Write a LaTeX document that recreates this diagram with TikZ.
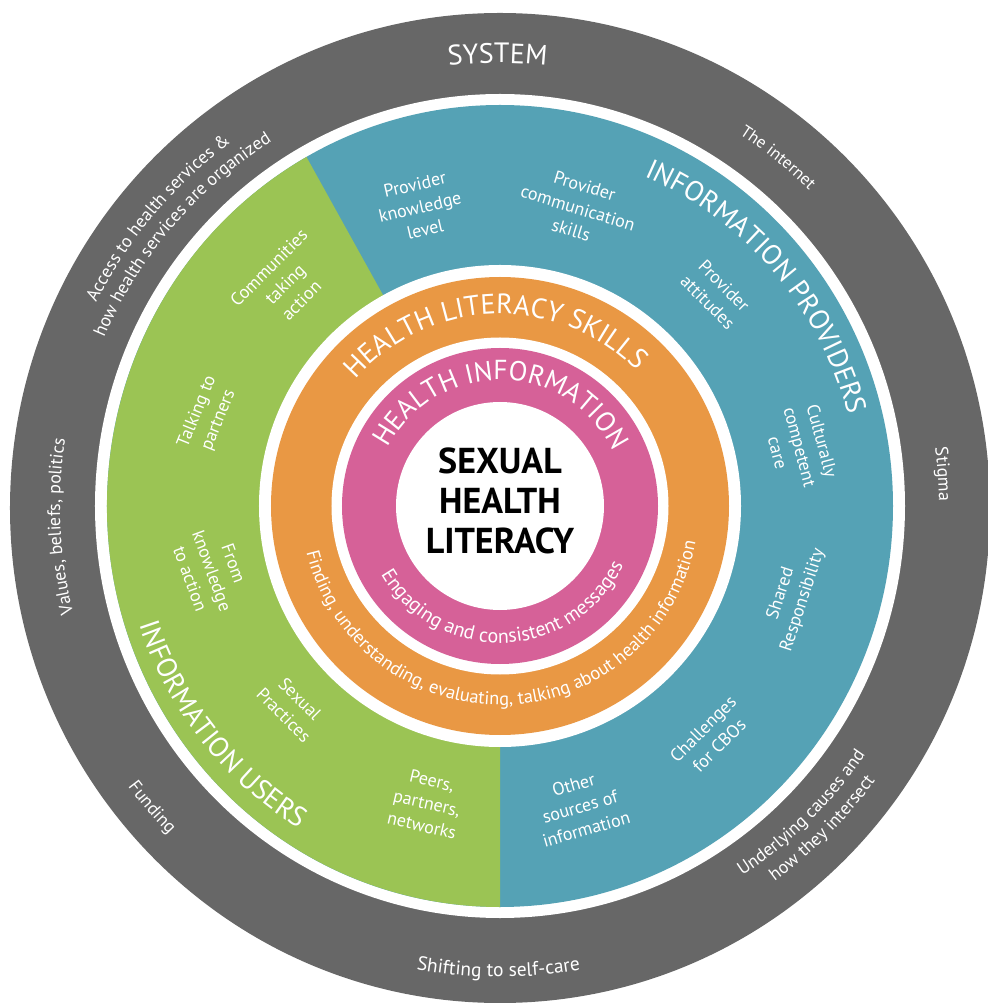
\documentclass[tikz,border=0pt]{standalone}
\usepackage{fontspec}
\setmainfont{PT Sans}
\usetikzlibrary{decorations.text}
\definecolor{sgrey}{HTML}{676767}
\definecolor{steal}{HTML}{55A2B5}
\definecolor{sgreen}{HTML}{9BC454}
\definecolor{sorange}{HTML}{E99844}
\definecolor{spink}{HTML}{D66198}
\newcommand\fhead{\fontsize{28}{30}\selectfont}
\newcommand\fhi{\fontsize{27.5}{30}\selectfont}
\newcommand\fgrey{\fontsize{18}{20}\selectfont}
\newcommand\fgreys{\fontsize{17}{20}\selectfont}
\newcommand\fshift{\fontsize{19.5}{22}\selectfont}
\newcommand\feng{\fontsize{20}{22}\selectfont}
\newcommand\ffind{\fontsize{18.5}{20}\selectfont}
% clockwise text (top side, letters point outward): radius, centre angle, font, text
\newcommand\cwtext[4]{\path[decorate,decoration={text along path,text align=center,text color=white,text={|#3|#4}}]
  ({#2+100}:#1) arc[start angle={#2+100},end angle={#2-100},radius=#1];}
% counter-clockwise text (bottom side, letters point inward)
\newcommand\ccwtext[4]{\path[decorate,decoration={text along path,text align=center,text color=white,text={|#3|#4}}]
  ({#2-100}:#1) arc[start angle={#2-100},end angle={#2+100},radius=#1];}
\begin{document}
\begin{tikzpicture}[x=1pt,y=1pt,
  lab/.style={text=white,align=center,font=\fontsize{18}{23}\selectfont,inner sep=0pt}]
\useasboundingbox (-500pt,-497pt) rectangle (487pt,506pt);
% rings
\fill[sgrey] (0pt,-2pt) ellipse[x radius=490pt,y radius=495pt];
\fill[white] (0pt,0pt) ellipse[x radius=405pt,y radius=412pt];
\fill[steal] (0pt,0pt) ellipse[x radius=393pt,y radius=401pt];
\fill[sgreen] (0pt,0pt) -- (119.5:393pt and 401pt) arc[start angle=119.5,end angle=270,x radius=393pt,y radius=401pt] -- cycle;
\fill[white] (0pt,0pt) circle[radius=241pt];
\fill[sorange] (0pt,0pt) circle[radius=229pt];
\fill[white] (0pt,0pt) circle[radius=168.5pt];
\fill[spink] (0pt,0pt) circle[radius=158pt];
\fill[white] (0pt,0pt) circle[radius=104pt];
% centre
\node[font=\bfseries\fontsize{36}{40}\selectfont,align=center,text=black,inner sep=0pt] (core) at (0pt,5pt) {SEXUAL\\HEALTH\\LITERACY};
% system ring
\cwtext{443pt}{90.3}{\fhead}{SYSTEM}
\cwtext{442pt}{51.4}{\fgreys}{The internet}
\cwtext{439pt}{4.1}{\fgrey}{Stigma}
\cwtext{440pt}{182.7}{\fgrey}{Values, beliefs, politics}
\cwtext{452pt}{139.9}{\fgrey}{Access to health services {\&}}
\cwtext{430pt}{139.5}{\fgrey}{how health services are organized}
\ccwtext{471pt}{269.8}{\fshift}{Shifting to self-care}
\ccwtext{466pt}{220.9}{\fgrey}{Funding}
\ccwtext{442pt}{314.5}{\fgrey}{Underlying causes and}
\ccwtext{465pt}{315}{\fgrey}{how they intersect}
% information ring headings
\cwtext{360pt}{40.5}{\fhead}{INFORMATION PROVIDERS}
\ccwtext{380pt}{218.2}{\fhead}{INFORMATION USERS}
% skills and information rings
\cwtext{192pt}{91.7}{\fhead}{HEALTH LITERACY SKILLS}
\cwtext{126pt}{89.2}{\fhi}{HEALTH INFORMATION}
\ccwtext{137pt}{272}{\feng}{Engaging and consistent messages}
\ccwtext{199pt}{271.5}{\ffind}{Finding, understanding, evaluating, talking about health information}
% providers labels
\node[lab,rotate=13] (pk) at (-80pt,299pt) {Provider\\knowledge\\level};
\node[lab,rotate=-17] (pc) at (78pt,298pt) {Provider\\communication\\skills};
\node[lab,rotate=-45] (pa) at (216pt,212pt) {Provider\\attitudes};
\node[lab,rotate=-75] (cc) at (300pt,59pt) {Culturally\\competent\\care};
\node[lab,rotate=72] (sr) at (292pt,-91pt) {Shared\\Responsibility};
\node[lab,rotate=45] (cb) at (211pt,-231pt) {Challenges\\for CBOs};
\node[lab,rotate=16] (os) at (80pt,-301pt) {Other\\sources of\\information};
% users labels
\node[lab,rotate=-13] (pp) at (-73pt,-297pt) {Peers,\\partners,\\networks};
\node[lab,rotate=-45] (sp) at (-208pt,-201pt) {Sexual\\Practices};
\node[lab,rotate=-70] (fk) at (-288pt,-65pt) {From\\knowledge\\to action};
\node[lab,rotate=68] (tp) at (-292pt,90pt) {Talking to\\partners};
\node[lab,rotate=45] (ct) at (-215pt,222pt) {Communities\\taking\\action};
\end{tikzpicture}
\end{document}
